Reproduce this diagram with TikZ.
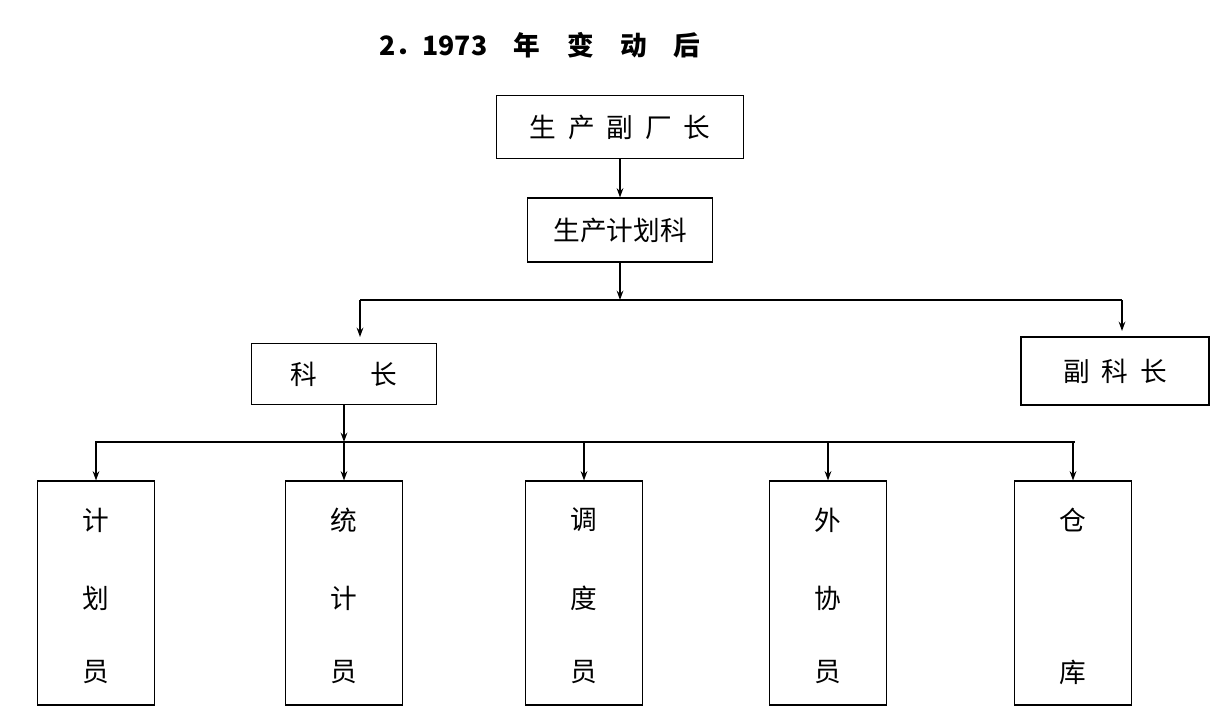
\documentclass[tikz,border=0pt]{standalone}
\usepackage{fontspec}
\setmainfont{Noto Sans CJK SC}
\usetikzlibrary{arrows.meta}
\begin{document}
\begin{tikzpicture}[x=0.75pt,y=-0.75pt,
  box/.style={draw,line width=0.8pt,inner sep=0pt,font=\fontsize{20}{24}\selectfont},
  arr/.style={line width=1.2pt,-{Stealth[length=7pt,width=5pt]}},
  ln/.style={line width=1.2pt},
  t/.style={font=\fontsize{20}{24}\selectfont}]
\useasboundingbox (0,0) rectangle (1217,721);
\fill[white] (0,0) rectangle (1217,721);
\node[font=\bfseries\fontsize{20}{24}\selectfont] (title) at (540,45) {2．1973\quad 年\quad 变\quad 动\quad 后};
\node[box,minimum width=185pt,minimum height=47pt] (a) at (620,127) {生\ \ 产\ \ 副\ \ 厂\ \ 长};
\node[box,minimum width=139pt,minimum height=48pt] (b) at (620,230) {生产计划科};
\node[box,minimum width=139pt,minimum height=46pt] (c) at (344,374) {科\qquad 长};
\node[box,minimum width=141pt,minimum height=51pt] (d) at (1115,371) {副\ \ 科\ \ 长};
\draw[arr] (a.south) -- (b.north);
\coordinate (j1) at (620,300);
\draw[arr] (b.south) -- (j1);
\draw[ln] (360,300) -- (1122,300);
\draw[arr] (360,300) -- (360,337);
\draw[arr] (1122,300) -- (1122,331);
\coordinate (j2) at (344,442);
\draw[arr] (c.south) -- (j2);
\draw[ln] (95,442) -- (1075,442);
\foreach \n/\x in {e/96, f/344, g/584, h/828, k/1073}{
  \node[draw,line width=0.8pt,minimum width=88pt,minimum height=168pt] (\n) at (\x,593) {};
  \draw[arr] (\x,442) -- (\n.north);
}
\foreach \x/\a/\b/\c in {96/计/划/员, 344/统/计/员, 584/调/度/员, 828/外/协/员}{
  \node[t] at (\x,520) {\a};
  \node[t] at (\x,598) {\b};
  \node[t] at (\x,672) {\c};
}
\node[t] at (1073,520) {仓};
\node[t] at (1073,672) {库};
\end{tikzpicture}
\end{document}
